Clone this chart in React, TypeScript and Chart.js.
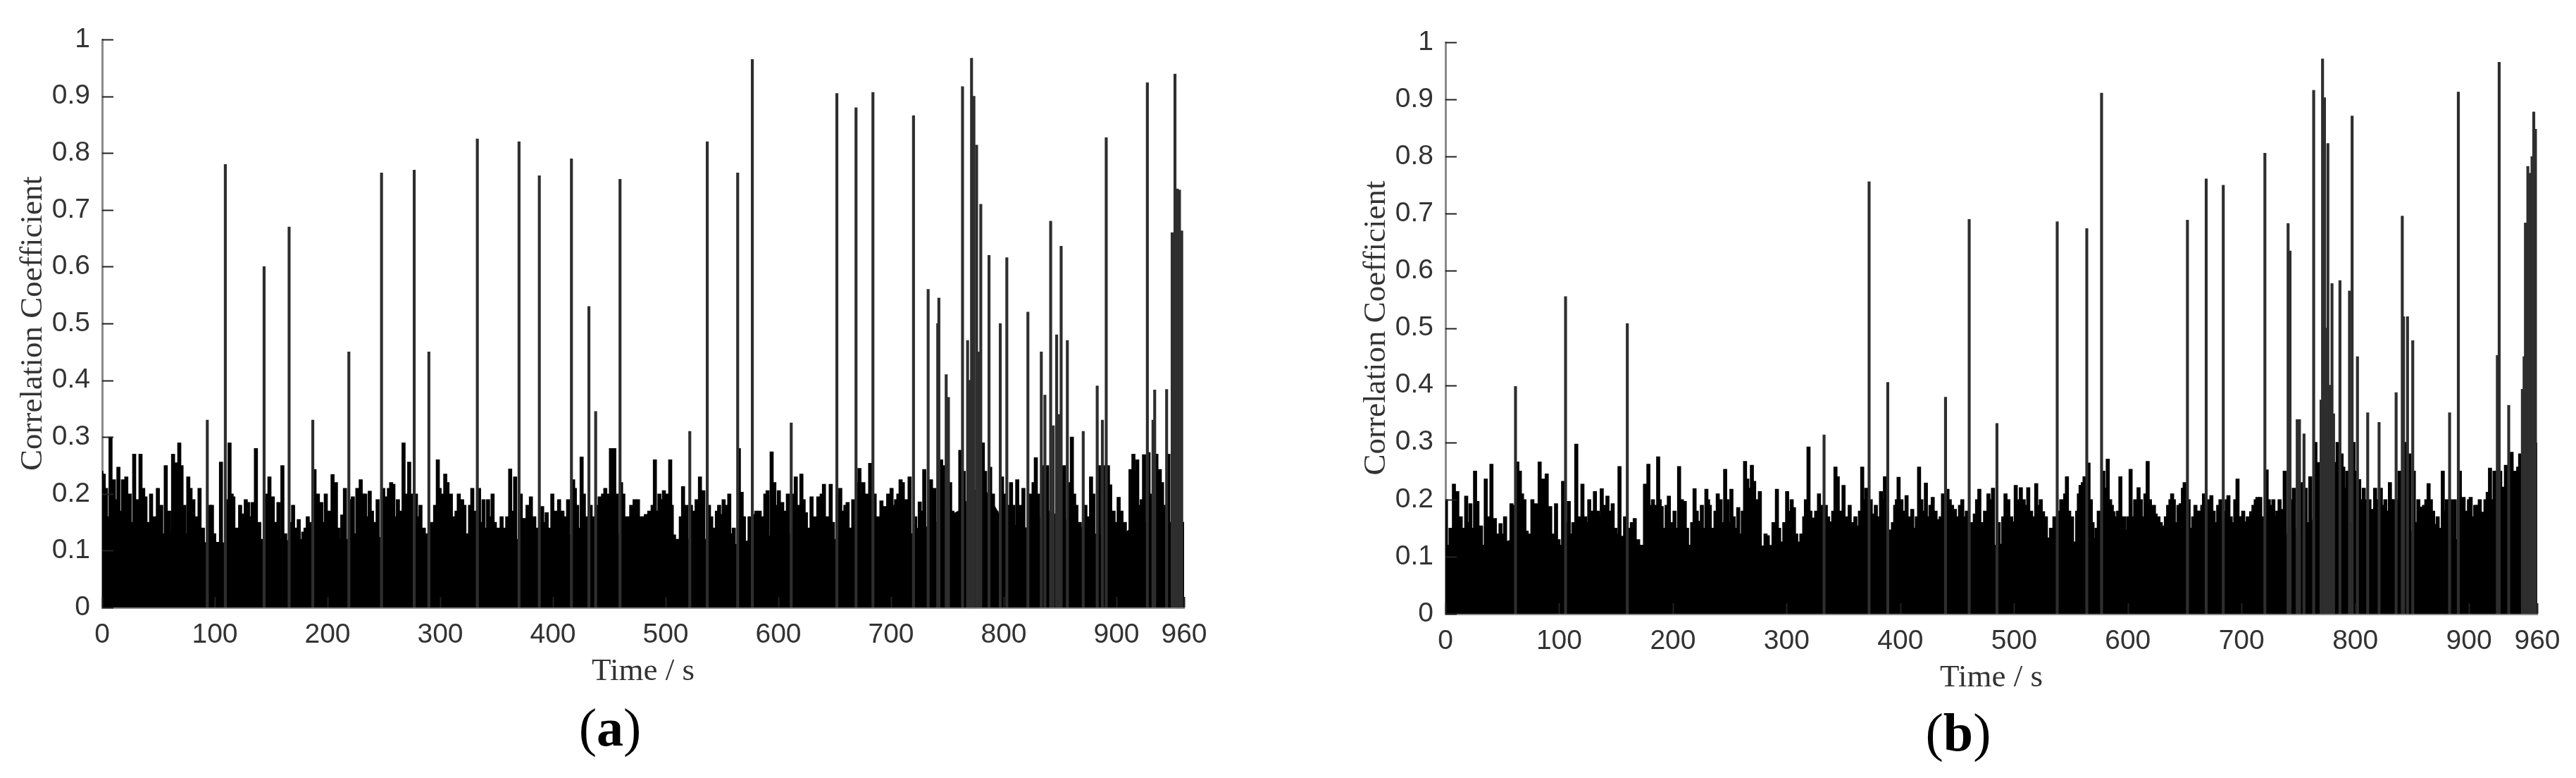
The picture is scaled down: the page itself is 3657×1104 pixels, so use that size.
import React, { useEffect, useRef } from "react";
import { Chart, registerables } from "chart.js";

Chart.register(...registerables);

// ---------- axis ticks ----------
const xTickValues = [0, 100, 200, 300, 400, 500, 600, 700, 800, 900, 960];
const yTickValues = [0, 0.1, 0.2, 0.3, 0.4, 0.5, 0.6, 0.7, 0.8, 0.9, 1];
const yTickLabels = ["0", "0.1", "0.2", "0.3", "0.4", "0.5", "0.6", "0.7", "0.8", "0.9", "1"];

// ---------- solid lower band (top of the dense black region) ----------
const floorTimes = [0, 20, 40, 60, 80, 100, 120, 140, 160, 180, 200, 220, 240, 260, 280, 300, 320, 340, 360, 380, 400, 420, 440, 460, 480, 500, 520, 540, 560, 580, 600, 620, 640, 660, 680, 700, 720, 740, 760, 780, 800, 820, 840, 860, 880, 900, 920, 940, 960];
const floorA = [0.13, 0.13, 0.12, 0.13, 0.12, 0.11, 0.12, 0.12, 0.12, 0.11, 0.12, 0.12, 0.12, 0.13, 0.12, 0.12, 0.12, 0.12, 0.12, 0.12, 0.12, 0.13, 0.13, 0.13, 0.12, 0.12, 0.12, 0.12, 0.11, 0.12, 0.13, 0.13, 0.12, 0.12, 0.13, 0.13, 0.13, 0.15, 0.17, 0.22, 0.15, 0.14, 0.17, 0.15, 0.13, 0.12, 0.15, 0.15, 0.15];
const floorB = [0.12, 0.12, 0.12, 0.13, 0.12, 0.12, 0.12, 0.13, 0.12, 0.12, 0.12, 0.12, 0.12, 0.13, 0.11, 0.11, 0.12, 0.12, 0.12, 0.12, 0.12, 0.12, 0.12, 0.12, 0.12, 0.12, 0.12, 0.12, 0.12, 0.13, 0.12, 0.12, 0.12, 0.12, 0.12, 0.12, 0.13, 0.14, 0.16, 0.2, 0.15, 0.14, 0.15, 0.14, 0.13, 0.13, 0.14, 0.16, 0.3];

// ---------- peaks [time s, correlation coefficient] ----------
const peaksA: [number, number][] = [
  [1,.24],[3,.235],[5,.21],[7,.16],[9,.30],[12,.225],[14,.19],[16,.247],[18,.17],[20,.225],[23,.23],[26,.2],[28,.15],[30,.27],[33,.19],[35.6,.27],[38,.21],[40,.195],[42,.15],[45,.2],[48,.16],[51,.21],[54,.18],[56,.13],[58,.25],[61,.17],[64.5,.27],[67,.255],[70,.29],[72,.25],[74.5,.18],[76.5,.13],[78,.23],[80,.21],[82.5,.19],[85,.16],[88,.21],[91,.14],[94.4,.33],[97,.18],[99,.18],
  [101,.13],[104,.115],[107,.256],[110.4,.78],[112.5,.19],[114.6,.29],[116.5,.2],[118,.195],[121,.14],[124,.18],[127,.165],[129,.19],[131,.185],[133,.16],[135,.185],[138,.28],[141,.15],[144.8,.60],[147,.2],[150,.23],[153,.195],[156,.15],[158,.185],[161.5,.25],[164,.13],[167,.67],[169,.15],[171,.18],[174,.14],[176,.155],[178,.12],[180,.133],[182,.14],[184,.16],[186,.15],[188,.33],[190,.243],[193,.2],[196,.185],[198,.15],
  [200,.2],[203,.17],[206,.234],[209,.22],[211,.14],[214.6,.163],[217,.21],[220,.45],[222,.19],[224,.195],[226,.13],[228,.21],[231,.225],[233,.2],[235,.2],[237,.16],[239,.205],[241,.17],[243,.15],[246,.19],[249,.765],[251,.21],[253,.195],[256,.21],[258,.22],[260,.217],[262,.16],[264,.19],[266,.17],[269,.29],[272,.2],[274,.256],[276,.2],[278,.77],[280,.2],[282,.16],[284,.18],[287,.14],[289,.13],[291,.45],[294,.15],[297,.18],[299.4,.26],
  [301,.21],[303,.2],[306,.235],[308,.22],[311,.2],[314,.16],[316,.17],[318,.2],[321,.19],[323,.18],[326,.13],[328,.18],[330,.21],[332,.17],[334,.825],[336,.21],[338,.15],[340,.19],[342,.14],[344,.19],[346,.16],[348,.2],[350,.15],[353,.14],[356,.16],[359,.14],[361,.16],[363.6,.244],[366,.17],[368,.23],[371,.82],[373,.2],[376,.157],[379,.18],[382,.195],[385,.16],[387,.14],[389,.76],[392,.178],[394,.15],[396,.167],[398,.14],
  [401,.2],[404,.17],[407,.19],[410,.17],[413,.16],[415,.19],[417.5,.79],[419.5,.225],[421,.21],[423,.18],[425,.14],[427,.265],[429,.2],[431,.16],[433,.53],[435,.18],[437,.16],[439,.345],[441,.18],[443,.195],[446,.2],[448,.21],[450,.2],[453,.28],[456,.28],[458,.2],[460.6,.754],[462,.22],[464,.2],[466,.16],[469,.16],[471,.18],[474,.19],[477,.19],[480,.16],[482,.16],[484,.164],[487,.17],[490,.18],[492,.26],[494,.17],[496,.2],[498,.19],
  [500,.206],[503,.2],[505.6,.26],[507,.18],[509,.128],[511,.12],[513,.107],[515,.16],[517,.213],[520,.18],[522.5,.31],[524,.18],[526,.17],[529,.19],[532,.23],[535,.206],[538,.82],[540,.18],[542,.16],[544,.14],[547,.17],[549,.18],[551,.164],[553,.19],[556,.18],[558,.2],[560,.13],[562,.14],[565,.765],[566.5,.28],[569,.203],[571,.16],[574,.117],[576,.16],[578,.965],[580,.164],[582,.17],[585,.17],[588,.16],[590,.2],[592,.206],[595.6,.274],[598,.22],
  [600,.18],[602,.206],[605,.185],[608,.17],[610,.2],[612.5,.325],[615,.2],[617,.23],[620,.18],[622,.235],[624,.19],[626,.167],[629,.14],[631,.195],[634,.16],[637,.195],[640,.2],[642,.217],[645,.16],[648,.217],[650,.15],[653,.905],[655,.2],[656.5,.21],[659,.17],[661,.18],[663,.185],[666,.14],[668,.19],[670,.88],[672,.22],[673.5,.245],[675,.2],[677,.22],[680,.2],[683,.254],[685,.907],[687,.2],[690,.16],[693,.188],[696,.178],[699,.2],
  [702,.21],[704,.18],[706,.19],[708,.2],[710,.225],[712,.22],[715,.19],[718,.23],[721,.866],[723,.16],[725,.14],[727,.186],[729,.17],[731,.243],[734,.56],[737,.225],[740,.21],[742.5,.5],[743.5,.545],[746,.26],[748,.25],[750,.41],[752,.37],[754,.22],[756,.17],[758,.15],[760,.14],[763,.277],[764.5,.917],[766,.24],[769,.47],[770.5,.4],[772.5,.967],[774.6,.9],[777,.814],[779,.45],[780.7,.71],[783,.29],[785,.24],[788,.62],[789.5,.247],[792,.2],[795,.17],[798,.5],
  [800,.23],[802,.2],[803.8,.616],[806,.18],[808,.22],[810,.18],[813.5,.225],[816,.18],[819,.21],[822.5,.52],[825,.2],[828,.22],[830,.264],[832,.2],[834.4,.45],[836,.25],[837.6,.374],[840,.25],[842.7,.68],[845,.32],[848,.48],[850,.34],[852,.636],[855,.25],[857.5,.47],[860,.22],[862,.3],[864,.2],[866,.18],[869,.15],[871.6,.31],[874,.18],[876,.16],[879,.23],[881,.2],[884,.39],[886,.25],[888.6,.33],[890,.25],[892,.827],[894,.25],[896,.216],[899,.17],
  [901,.15],[903.5,.194],[906,.17],[909,.15],[911,.12],[914,.243],[916.6,.27],[918,.24],[920,.26],[922,.18],[924,.19],[926,.269],[928.5,.924],[930,.273],[932,.2],[933.5,.33],[935,.383],[937,.27],[940,.243],[942,.22],[944,.18],[945.6,.384],[947.6,.27],[950.5,.66],[953,.939],[955,.737],[957,.735],[959,.663]
];

const peaksB: [number, number][] = [
  [2,.2],[4,.11],[6,.15],[9,.227],[12,.214],[15,.17],[17,.15],[19.8,.206],[21.5,.16],[23.5,.193],[25.5,.15],[27.6,.25],[29.7,.197],[32.8,.154],[35.9,.1],[37,.236],[40,.17],[42,.262],[45,.167],[47.5,.14],[50,.158],[52,.14],[54,.17],[57,.12],[59.6,.193],[61,.19],[62.7,.398],[64.8,.266],[67,.25],[68.9,.21],[71,.2],[73,.145],[75.5,.14],[78,.2],[81,.193],[82.5,.15],[84.4,.266],[86,.16],[87.5,.236],[90.6,.245],[92,.15],[93.7,.188],[96,.14],[98.8,.193],
  [101,.13],[103,.115],[105,.232],[106.7,.555],[108.5,.16],[110,.197],[112,.14],[114,.16],[116.6,.297],[119,.17],[122,.227],[124.5,.17],[126,.16],[128,.2],[130.5,.18],[133,.214],[135.5,.18],[137,.17],[139,.219],[141.5,.19],[144,.206],[146,.18],[148.6,.193],[151,.15],[152.5,.14],[154.6,.258],[157.7,.136],[159.5,.17],[161,.508],[163,.15],[165.5,.16],[168,.167],[171,.13],[174,.115],[177,.227],[180,.262],[182,.19],[184,.2],[186,.19],[188.6,.275],[190,.2],[191.7,.188],[194,.15],[196,.19],[198,.206],
  [200.5,.16],[203,.18],[205,.15],[207,.258],[209.5,.2],[212,.197],[214,.15],[216,.089],[218.5,.16],[220.6,.219],[222.5,.18],[224.7,.162],[227,.19],[229,.15],[231,.218],[232.5,.2],[234,.19],[237,.15],[239,.18],[241,.21],[243.5,.2],[245.5,.16],[247.5,.253],[249.5,.2],[251.5,.16],[253,.218],[255,.17],[257,.15],[259,.186],[261,.14],[263,.18],[265,.267],[267,.236],[269,.22],[271,.26],[273,.232],[275.5,.2],[278,.214],[281,.119],[283,.14],[285,.137],[287.5,.12],[290,.16],[293,.218],[295,.15],[297,.126],[299.5,.16],
  [302,.214],[304.5,.18],[306,.2],[308,.186],[310,.14],[312,.126],[314.5,.14],[317,.17],[318.5,.2],[320.8,.292],[322.5,.18],[325,.168],[327.5,.18],[330,.21],[332,.19],[334,.313],[336,.19],[338,.17],[340.5,.161],[342.5,.18],[344.5,.257],[346.5,.24],[349,.18],[351.6,.225],[354,.17],[357,.19],[359.5,.16],[362,.17],[364,.154],[366,.18],[368,.257],[370,.2],[371.5,.22],[373.6,.756],[375.5,.2],[378,.175],[380,.19],[382,.17],[384.5,.214],[386.5,.2],[388,.24],[390,.405],[393,.147],[395,.16],[397,.19],[398.5,.2],
  [400,.239],[402.5,.2],[405,.18],[407,.207],[409.5,.17],[412,.183],[414,.15],[416,.17],[418,.257],[420,.2],[422,.18],[424,.229],[426,.17],[428,.19],[430,.204],[432.5,.18],[435,.165],[437,.17],[439,.21],[440.8,.379],[443,.218],[445,.2],[447,.19],[449.5,.183],[451.5,.17],[454,.19],[456,.2],[458,.17],[460,.18],[461.6,.69],[464,.16],[467,.175],[469,.2],[471,.218],[473.5,.16],[476,.18],[479,.21],[481,.2],[483,.22],[486,.333],[488,.16],[490,.122],[492,.17],[494,.21],[496.5,.2],[499,.17],
  [501,.161],[503,.225],[505,.2],[507.5,.221],[510,.2],[512,.19],[514,.221],[516.5,.18],[519,.17],[521,.228],[523.5,.19],[525,.2],[527,.179],[529.5,.17],[532,.133],[534,.15],[537,.17],[539,.686],[541,.18],[543,.2],[545,.197],[546.5,.21],[548,.24],[550,.18],[552.5,.17],[555,.126],[557,.18],[558.5,.21],[560,.225],[562,.23],[563.5,.24],[565,.674],[567,.264],[569,.2],[570.5,.16],[572,.133],[574,.15],[576,.18],[578,.911],[580,.25],[582,.22],[583.9,.271],[586,.2],[587.5,.19],[589,.179],[591,.17],[593,.18],[595,.24],[597,.16],[598.5,.17],
  [600,.147],[602,.17],[604,.253],[606,.17],[608,.2],[609.5,.18],[611,.221],[613,.2],[615,.17],[617,.21],[619,.267],[621,.2],[622.5,.17],[624.5,.19],[626,.175],[628.5,.17],[630.5,.16],[632.5,.154],[635,.17],[637,.19],[639,.2],[640.5,.21],[642,.2],[644,.16],[646,.19],[648,.193],[650,.22],[651.5,.23],[653.5,.689],[655,.2],[657,.15],[659,.17],[661,.19],[663,.18],[665,.18],[667,.19],[668.5,.21],[670,.761],[672,.2],[673.5,.17],[675,.207],[677,.18],[679,.16],[681,.19],[683,.2],[685,.75],[687,.18],[688.5,.2],[690,.207],[692,.17],[694,.16],[696,.2],[698,.236],
  [700,.17],[701.5,.17],[703,.18],[705,.161],[707,.17],[708.5,.165],[710,.179],[712,.19],[714,.2],[715.5,.204],[718,.204],[720,.17],[721.6,.806],[723.6,.252],[725.5,.2],[728,.19],[729.5,.2],[731,.17],[733,.18],[735,.2],[737.6,.183],[739.5,.25],[742,.683],[743.7,.635],[745.5,.2],[747.5,.22],[750,.34],[752,.34],[754,.23],[756,.315],[758,.22],[760,.16],[762,.24],[764.5,.916],[766.5,.3],[768.7,.265],[771,.374],[772.3,.971],[774,.903],[775.5,.5],[777,.823],[778.5,.4],[780.6,.578],[782,.35],[784,.265],[786,.3],[787.6,.583],[789.5,.28],[791,.257],[793,.22],[794.5,.25],[796,.565],[798.3,.871],
  [800,.3],[801.5,.25],[803,.45],[805,.235],[807,.2],[809,.22],[810.5,.2],[812,.352],[814,.2],[815.5,.18],[817,.183],[819,.22],[820.5,.2],[822,.335],[824,.22],[826,.19],[828,.2],[830,.18],[832,.23],[834,.2],[835.5,.2],[837,.387],[839,.2],[840.5,.25],[842.4,.696],[843.5,.52],[845,.3],[847,.52],[849,.28],[851.6,.478],[853,.25],[855,.16],[857,.2],[858.5,.18],[860,.187],[862,.19],[864,.2],[866,.228],[868,.2],[870,.18],[872,.157],[874,.17],[876,.15],[878.5,.25],[880,.18],[882,.2],[884,.352],[885.5,.2],[887,.122],[889,.2],[891.7,.913],[893.5,.25],[895,.2],[896.8,.204],[898.5,.17],
  [900,.18],[901.5,.2],[903,.204],[905,.17],[907,.19],[909,.19],[911,.2],[913.5,.178],[916,.2],[918,.213],[920,.255],[922,.2],[924,.25],[926,.452],[927.6,.965],[929,.25],[930.5,.2],[932,.222],[934,.26],[936,.365],[937.5,.25],[939,.283],[941,.25],[943,.25],[944.8,.257],[946.5,.28],[948,.393],[949.5,.45],[950.7,.684],[952.8,.783],[954,.77],[955,.771],[956.5,.8],[958,.878],[959.5,.848]
];

const tallLimit = 0.3;

// ---------- drawing helpers ----------
const inwardTicks = {
  id: "inwardTicks",
  afterDraw(chart: any) {
    const { ctx, chartArea: a, scales } = chart;
    const x = scales.x;
    const y = scales.y;
    ctx.save();
    ctx.strokeStyle = "#222";
    ctx.lineWidth = 2;
    ctx.beginPath();
    x.ticks.forEach((t: any) => {
      const px = Math.round(x.getPixelForValue(t.value)) + 0.5;
      ctx.moveTo(px, a.bottom);
      ctx.lineTo(px, a.bottom - 15);
    });
    y.ticks.forEach((t: any) => {
      const py = Math.round(y.getPixelForValue(t.value)) + 0.5;
      ctx.moveTo(a.left, py);
      ctx.lineTo(a.left + 16, py);
    });
    ctx.stroke();
    ctx.restore();
  },
};

type PanelSpec = {
  peaks: [number, number][];
  floor: number[];
  padLeft: number;
  padRight: number;
  padTop: number;
  xHeight: number;
  xTitlePad: number;
};

function makeConfig(p: PanelSpec): any {
  const low = p.peaks.filter(([, v]) => v <= tallLimit);
  const tall = p.peaks.filter(([, v]) => v > tallLimit);
  return {
    type: "bar",
    data: {
      datasets: [
        {
          type: "bar",
          stack: "signal",
          data: tall.map(([t, v]) => ({ x: t, y: v })),
          barThickness: 3.5,
          borderWidth: 0,
          backgroundColor: "#2e2e2e",
          order: 1,
        },
        {
          type: "bar",
          stack: "signal",
          data: low.map(([t, v]) => ({ x: t, y: v })),
          barThickness: 5,
          borderWidth: 0,
          backgroundColor: "#000",
          order: 2,
        },
        {
          type: "line",
          data: floorTimes.map((t, i) => ({ x: t, y: p.floor[i] })),
          fill: "origin",
          backgroundColor: "#000",
          borderColor: "#000",
          borderWidth: 1,
          pointRadius: 0,
          tension: 0,
          order: 3,
        },
      ],
    },
    options: {
      animation: false,
      responsive: false,
      events: [],
      layout: { padding: { left: p.padLeft, right: p.padRight, top: p.padTop, bottom: 0 } },
      plugins: { legend: { display: false }, tooltip: { enabled: false } },
      scales: {
        x: {
          type: "linear",
          min: 0,
          max: 960,
          offset: false,
          stacked: false,
          z: 1,
          grid: { display: false, drawTicks: false, offset: false },
          border: { display: true, color: "#8a8a8a", width: 3 },
          afterBuildTicks: (s: any) => {
            s.ticks = xTickValues.map((v) => ({ value: v }));
          },
          ticks: {
            autoSkip: false,
            maxRotation: 0,
            padding: 16,
            color: "#333",
            font: { family: "'Liberation Sans', Arial, sans-serif", size: 39 },
            callback: (v: any) => String(v),
          },
          title: {
            display: true,
            text: "Time / s",
            color: "#333",
            font: { family: "'Liberation Serif', 'Times New Roman', serif", size: 45 },
            padding: { top: 0, bottom: p.xTitlePad },
          },
          afterFit: (s: any) => {
            s.height = p.xHeight;
          },
        },
        y: {
          type: "linear",
          min: 0,
          max: 1,
          stacked: false,
          z: 1,
          grid: { display: false, drawTicks: false },
          border: { display: true, color: "#8a8a8a", width: 3 },
          afterBuildTicks: (s: any) => {
            s.ticks = yTickValues.map((v) => ({ value: v }));
          },
          ticks: {
            padding: 17,
            color: "#333",
            font: { family: "'Liberation Sans', Arial, sans-serif", size: 39 },
            callback: (v: any, i: number) => yTickLabels[i],
          },
          title: {
            display: true,
            text: "Correlation Coefficient",
            color: "#333",
            font: { family: "'Liberation Serif', 'Times New Roman', serif", size: 45 },
            padding: { top: 20, bottom: 0 },
          },
          afterFit: (s: any) => {
            s.width = 145;
          },
        },
      },
    },
    plugins: [inwardTicks],
  };
}

function Panel(props: { spec: PanelSpec; left: number; width: number }) {
  const ref = useRef<HTMLCanvasElement | null>(null);
  useEffect(() => {
    if (!ref.current) return;
    const chart = new Chart(ref.current, makeConfig(props.spec));
    return () => chart.destroy();
  }, []);
  return (
    <canvas
      ref={ref}
      width={props.width}
      height={1104}
      style={{ position: "absolute", left: props.left, top: 0, width: props.width, height: 1104 }}
    />
  );
}

const captionStyle: React.CSSProperties = {
  position: "absolute",
  width: 300,
  textAlign: "center",
  fontFamily: "'Liberation Serif', 'Times New Roman', serif",
  fontSize: 76,
  lineHeight: "76px",
  color: "#000",
};

export default function App() {
  const specA: PanelSpec = { peaks: peaksA, floor: floorA, padLeft: 0, padRight: 147, padTop: 56, xHeight: 242, xTitlePad: 124 };
  const specB: PanelSpec = { peaks: peaksB, floor: floorB, padLeft: 79, padRight: 55, padTop: 60, xHeight: 233, xTitlePad: 115 };
  return (
    <div style={{ position: "absolute", left: 0, top: 0, width: 3657, height: 1104, background: "#fff", overflow: "hidden" }}>
      <Panel spec={specA} left={0} width={1828} />
      <Panel spec={specB} left={1828} width={1829} />
      <div style={{ ...captionStyle, left: 866 - 150, top: 994 }}>
        (<b>a</b>)
      </div>
      <div style={{ ...captionStyle, left: 2780 - 150, top: 1001 }}>
        (<b>b</b>)
      </div>
    </div>
  );
}
